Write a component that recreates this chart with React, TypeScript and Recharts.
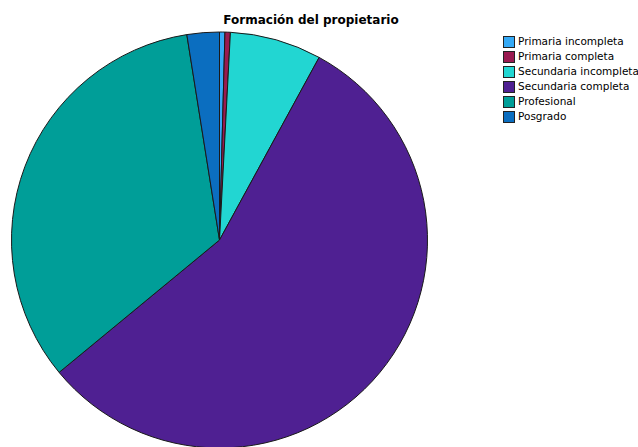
import React from "react";
import { PieChart, Pie, Cell } from "recharts";

const categories = [
  "Primaria incompleta",
  "Primaria completa",
  "Secundaria incompleta",
  "Secundaria completa",
  "Profesional",
  "Posgrado",
];
const counts = [1, 1, 17, 134, 80, 6];
const colors = ["#35A9F5", "#9A1A50", "#22D6D2", "#4F2092", "#009E98", "#0B6EC0"];
const title = "Formación del propietario";

const data = categories.map((name, i) => ({ name, value: counts[i] }));

export default function App() {
  return (
    <div style={{ position: "absolute", left: 0, top: 0, width: 638, height: 447, background: "#fff", overflow: "hidden" }}>
      <div
        style={{
          position: "absolute",
          left: 0,
          width: 622,
          top: 12,
          textAlign: "center",
          fontFamily: "DejaVu Sans, Verdana, sans-serif",
          fontWeight: "bold",
          fontSize: 12,
          color: "#000",
          lineHeight: "16px",
        }}
      >
        {title}
      </div>
      <div
        style={{
          position: "absolute",
          left: 503,
          top: 34,
          fontFamily: "DejaVu Sans, Verdana, sans-serif",
          fontSize: 10.5,
          color: "#000",
          whiteSpace: "nowrap",
        }}
      >
        {categories.map((c, i) => (
          <div key={c} style={{ display: "flex", alignItems: "center", height: 15 }}>
            <div
              style={{
                width: 10,
                height: 10,
                background: colors[i],
                border: "1px solid #222",
                marginRight: 3,
                flexShrink: 0,
              }}
            />
            <span style={{ lineHeight: "15px" }}>{c}</span>
          </div>
        ))}
      </div>
      <div style={{ position: "absolute", left: 0, top: 0 }}>
        <PieChart width={638} height={447} margin={{ top: 0, right: 0, bottom: 0, left: 0 }}>
          <Pie
            data={data}
            dataKey="value"
            nameKey="name"
            cx={219.5}
            cy={240}
            outerRadius={208}
            startAngle={90}
            endAngle={-270}
            stroke="#1a1a1a"
            strokeWidth={1}
            isAnimationActive={false}
            label={false}
            labelLine={false}
          >
            {data.map((d, i) => (
              <Cell key={d.name} fill={colors[i]} />
            ))}
          </Pie>
        </PieChart>
      </div>
    </div>
  );
}
